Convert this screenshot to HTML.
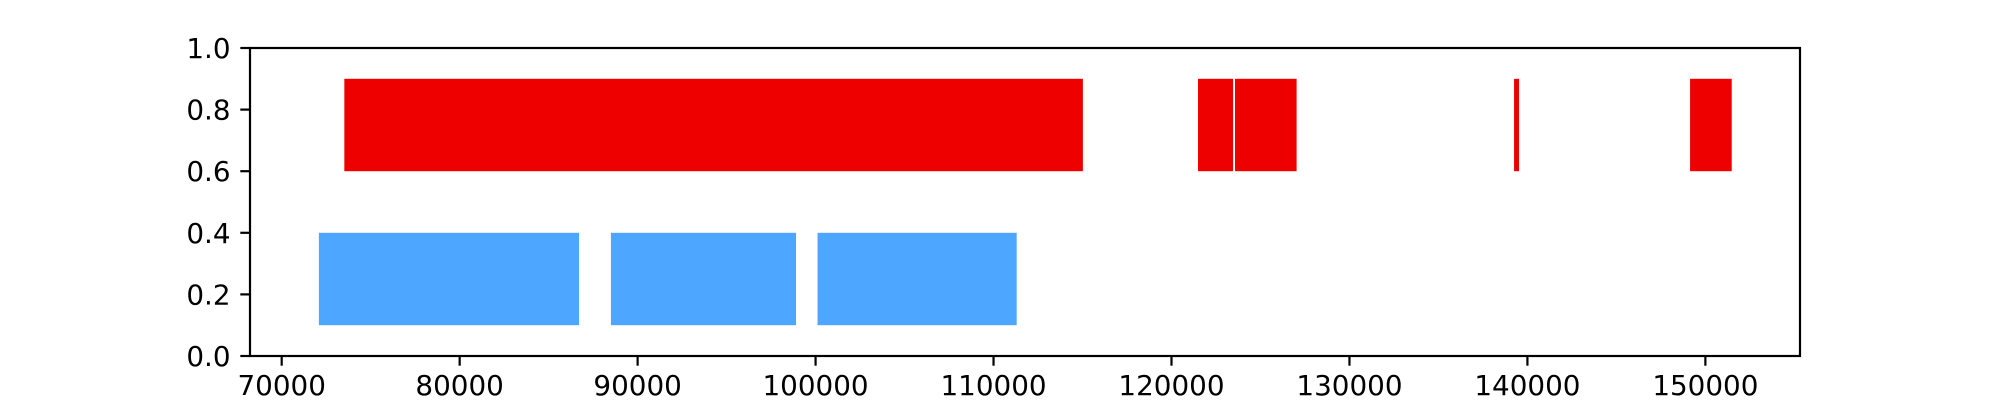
<!DOCTYPE html>
<html><head><meta charset="utf-8"><style>body{margin:0;background:#fff}svg{display:block}</style></head>
<body>
<svg id="chart" width="2000" height="400" xmlns="http://www.w3.org/2000/svg" font-family="DejaVu Sans, Liberation Sans, sans-serif" font-size="27.8"></svg>
<script>
const redStarts=[73520,121490,123570,139250,149140];
const redEnds=[115020,123460,127030,139530,151480];
const blueStarts=[72090,88500,100110];
const blueEnds=[86710,98900,111300];
const xTicks=[70000,80000,90000,100000,110000,120000,130000,140000,150000];
const yTicks=[0.0,0.2,0.4,0.6,0.8,1.0];
const L=250,R=1800,T=48,B=356,XMIN=68219,XMAX=155317;
const sx=v=>L+(v-XMIN)/(XMAX-XMIN)*(R-L);
const sy=v=>B-v*(B-T);
const svg=document.getElementById('chart');
const NS='http://www.w3.org/2000/svg';
function mk(tag,attrs,parent){const e=document.createElementNS(NS,tag);for(const k in attrs)e.setAttribute(k,attrs[k]);(parent||svg).appendChild(e);return e;}
function bars(starts,ends,y0,y1,color,name){
  starts.forEach((s,i)=>{
    const r=mk('rect',{x:sx(s),y:sy(y1),width:sx(ends[i])-sx(s),height:sy(y0)-sy(y1),fill:color});
    
    
  });
}
bars(redStarts,redEnds,0.6,0.9,'#ee0000','red-bar');
bars(blueStarts,blueEnds,0.1,0.4,'#4da6ff','blue-bar');
const frame=mk('rect',{x:L,y:T,width:R-L,height:B-T,fill:'none',stroke:'#000','stroke-width':2.2});


xTicks.forEach(v=>{
  const x=sx(v);
  mk('line',{x1:x,y1:B,x2:x,y2:B+9.7,stroke:'#000','stroke-width':2.2});
  const t=mk('text',{x:x,y:395,'text-anchor':'middle'});
  t.textContent=v;
  
  
});
yTicks.forEach(v=>{
  const y=sy(v);
  mk('line',{x1:L,y1:y,x2:L-9.7,y2:y,stroke:'#000','stroke-width':2.2});
  const t=mk('text',{x:L-19.4,y:y+10,'text-anchor':'end'});
  t.textContent=v.toFixed(1);
  
  
});
</script>
</body></html>
